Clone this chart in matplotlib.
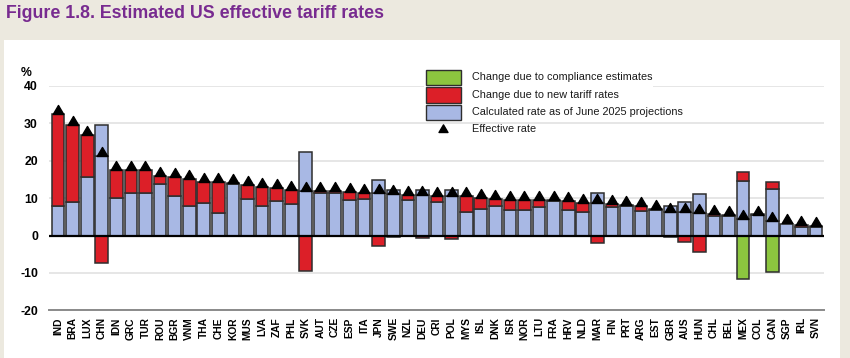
import matplotlib
matplotlib.use("Agg")
import matplotlib.pyplot as plt
from matplotlib.patches import Rectangle
from matplotlib.lines import Line2D
from matplotlib.path import Path
import numpy as np

countries = ["IND", "BRA", "LUX", "CHN", "IDN", "GRC", "TUR", "ROU", "BGR", "VNM",
             "THA", "CHE", "KOR", "MUS", "LVA", "ZAF", "PHL", "SVK", "AUT", "CZE",
             "ESP", "ITA", "JPN", "SWE", "NZL", "DEU", "CRI", "POL", "MYS", "ISL",
             "DNK", "ISR", "NOR", "LTU", "FRA", "HRV", "NLD", "MAR", "FIN", "PRT",
             "ARG", "EST", "GBR", "AUS", "HUN", "CHL", "BEL", "MEX", "COL", "CAN",
             "SGP", "IRL", "SVN"]

# Calculated rate as of June 2025 projections
calc_rate = [8.0, 8.85, 15.65, 29.7, 10.0, 11.3, 11.3, 13.85, 10.5, 8.0,
             8.75, 6.1, 13.8, 9.75, 7.95, 9.2, 8.4, 22.35, 11.5, 11.5,
             9.57, 9.84, 14.93, 12.25, 9.57, 12.25, 9.1, 12.25, 6.4, 7.07,
             7.8, 6.8, 6.9, 7.6, 9.3, 6.9, 6.4, 11.35, 7.6, 7.8,
             6.6, 6.9, 7.8, 8.85, 11.1, 5.3, 5.1, 14.65, 5.55, 12.4,
             3.2, 2.25, 2.25]

# Change due to new tariff rates
new_tariff = [24.4, 20.65, 11.35, -7.4, 7.6, 6.3, 6.1, 2.15, 5.15, 7.0,
              5.65, 8.2, 0.2, 3.75, 5.05, 3.4, 3.85, -9.5, 0.5, 0.4,
              2.0, 1.65, -2.7, -0.45, 1.3, -0.7, 1.6, -0.9, 4.25, 2.9,
              1.95, 2.7, 2.5, 1.8, 0.1, 2.4, 2.3, -2.1, 0.8, 0.35,
              1.35, 0.2, -0.45, -1.6, -4.3, 0.4, 0.3, 2.3, 0.1, 1.9,
              -0.2, 0.45, 0.2]

# Change due to compliance estimates
compliance = [0.0] * 47 + [-11.7, 0.0, -9.8, 0.0, 0.0, 0.0]

# Effective rate
effective = [32.4, 29.5, 27.0, 21.2, 17.6, 17.6, 17.4, 16.0, 15.65, 15.0,
             14.4, 14.3, 14.0, 13.5, 13.0, 12.6, 12.25, 12.0, 12.0, 11.9,
             11.6, 11.5, 11.4, 11.1, 10.9, 10.9, 10.7, 10.65, 10.6, 10.0,
             9.75, 9.5, 9.4, 9.4, 9.4, 9.3, 8.7, 8.7, 8.4, 8.15,
             7.95, 7.1, 6.4, 6.25, 6.0, 5.7, 5.4, 4.5, 5.6, 3.9,
             3.3, 2.7, 2.45]

yticks = [-20, -10, 0, 10, 20, 30, 40]

# ---------------------------------------------------------------
W, H = 850, 358
BLUE = "#A8B8E4"
RED = "#DC1F28"
GREEN = "#8CC63F"
EDGE = "#2E2E2E"
FONT = ["Liberation Sans", "DejaVu Sans"]
plt.rcParams["font.family"] = FONT

def fx(px):
    return px / W

def fy(py):
    return 1 - py / H

fig = plt.figure(figsize=(W / 100, H / 100), dpi=100)
fig.patch.set_facecolor("#ECE9DF")
fig.patches.append(Rectangle((fx(4), 0), fx(840) - fx(4), fy(40),
                             transform=fig.transFigure, facecolor="white",
                             edgecolor="none", zorder=-5))

ax = fig.add_axes([fx(49), fy(310.3), fx(824) - fx(49), (310.3 - 86) / H])
ax.set_facecolor("white")

x = np.arange(len(countries))
calc_a = np.array(calc_rate)
red_a = np.array(new_tariff)
green_a = np.array(compliance)
eff_a = np.array(effective)
bw = 0.87
ekw = dict(edgecolor=EDGE, linewidth=1.1, zorder=2)

blue_low = np.minimum(calc_a, eff_a)
blue_high = calc_a - blue_low
ax.bar(x, blue_low, bw, color=BLUE, **ekw)
m = blue_high > 0.05
ax.bar(x[m], blue_high[m], bw, bottom=blue_low[m], color=BLUE, **ekw)

pos = red_a > 0
ax.bar(x[pos], red_a[pos], bw, bottom=calc_a[pos], color=RED, **ekw)
neg = red_a < 0
ax.bar(x[neg], red_a[neg], bw, color=RED, **ekw)
gm = green_a < 0
ax.bar(x[gm], green_a[gm], bw, color=GREEN, **ekw)

tri = Path([(-1, 0), (1, 0), (0, 1.7), (-1, 0)],
           [Path.MOVETO, Path.LINETO, Path.LINETO, Path.CLOSEPOLY])
ax.plot(x, eff_a, linestyle="none", marker=tri, markersize=13,
        color="black", zorder=4)

ax.axhline(0, color="black", linewidth=1.6, zorder=3)

ax.set_xlim(-0.62, len(countries) - 1 + 0.55)
ax.set_ylim(-20, 40)
ax.set_yticks(yticks)
ax.set_yticklabels([str(t) for t in yticks], fontsize=8.8, fontweight="bold")
ax.yaxis.grid(True, color="#E4E4E4", linewidth=1.3)
ax.set_axisbelow(True)
ax.set_xticks(x)
ax.set_xticklabels(countries, rotation=90, fontsize=7.4, fontweight="bold")
ax.tick_params(axis="both", length=0)
ax.tick_params(axis="y", pad=8)
ax.tick_params(axis="x", pad=5)
for s in ["left", "right", "top"]:
    ax.spines[s].set_visible(False)
ax.spines["bottom"].set_color("#8A8A8A")
ax.spines["bottom"].set_linewidth(1.4)

fig.text(fx(26), fy(73), "%", fontsize=8.8, fontweight="bold",
         ha="center", va="center")

# Title
fig.text(fx(6), fy(18.5), "Figure 1.8. Estimated US effective tariff rates",
         fontsize=12.8, fontweight="bold", color="#782B90",
         family=["Liberation Sans Narrow", "Liberation Sans"],
         ha="left", va="baseline")

# Legend (drawn in figure pixels)
fig.patches.append(Rectangle((fx(424), fy(103)), fx(653) - fx(424), (103 - 68) / H,
                             transform=fig.transFigure, facecolor="white",
                             edgecolor="none", zorder=3))
rows = [("Change due to compliance estimates", GREEN, 70),
        ("Change due to new tariff rates", RED, 87.5),
        ("Calculated rate as of June 2025 projections", BLUE, 104.5)]
for label, col, top in rows:
    fig.patches.append(Rectangle((fx(426), fy(top + 15)), fx(461) - fx(426), 15 / H,
                                 transform=fig.transFigure, facecolor=col,
                                 edgecolor=EDGE, linewidth=1.0, zorder=4))
    fig.text(fx(472), fy(top + 7.5), label, fontsize=7.8, color="#1A1A1A",
             ha="left", va="center", zorder=5)
fig.add_artist(Line2D([fx(443)], [fy(132.5)], marker=tri, markersize=11,
                      color="black", linestyle="none", transform=fig.transFigure,
                      zorder=5))
fig.text(fx(472), fy(129.5), "Effective rate", fontsize=7.8, color="#1A1A1A",
         ha="left", va="center", zorder=5)

fig.savefig("out.png", dpi=100, facecolor=fig.get_facecolor())
